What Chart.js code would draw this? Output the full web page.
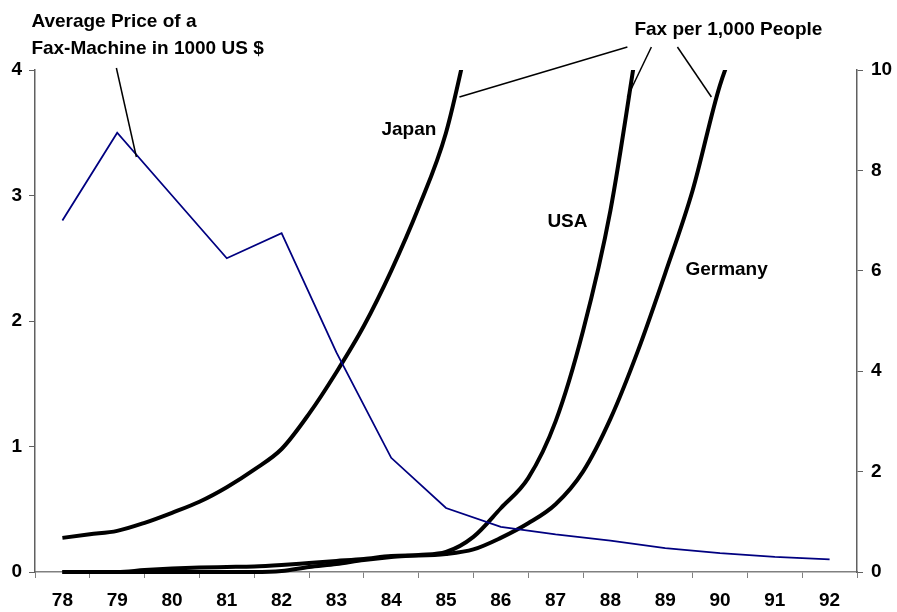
<!DOCTYPE html>
<html>
<head>
<meta charset="utf-8">
<script src="https://cdn.jsdelivr.net/npm/chart.js@4/dist/chart.umd.min.js"></script>
<style>
  html, body { margin: 0; padding: 0; background: #fff; }
  #wrap { width: 897px; height: 612px; position: relative; }
</style>
</head>
<body>
<div id="wrap"><canvas id="c"></canvas></div>
<script>
// ---- Data ----
const years = ['78','79','80','81','82','83','84','85','86','87','88','89','90','91','92'];
const priceValues = [2.80, 3.50, 3.00, 2.50, 2.70, 1.75, 0.91, 0.51, 0.36, 0.30, 0.25, 0.19, 0.15, 0.12, 0.10];

const halfYears = [78, 78.5, 79, 79.5, 80, 80.5, 81, 81.5, 82, 82.5, 83, 83.5, 84, 84.5, 85, 85.5,
                   86, 86.5, 87, 87.5, 88, 88.5, 89, 89.5, 90, 90.5];
const japanValues = [0.68, 0.75, 0.82, 0.98, 1.18, 1.40, 1.69, 2.04, 2.45, 3.15, 3.98, 4.90, 6.00, 7.26, 8.75, 11.1];
const usaValues = [0, 0, 0, 0, 0, 0, 0, 0, 0.02, 0.10, 0.16, 0.24, 0.30, 0.34, 0.40, 0.70,
                   1.27, 1.87, 3.00, 4.80, 7.20, 10.6];
const germanyValues = [0, 0, 0, 0.04, 0.07, 0.09, 0.10, 0.11, 0.14, 0.18, 0.22, 0.26, 0.32, 0.33, 0.36, 0.45,
                       0.68, 0.97, 1.35, 2.00, 3.05, 4.40, 5.95, 7.60, 9.70, 11.1];

const leftTicks = [0, 1, 2, 3, 4];
const rightTicks = [0, 2, 4, 6, 8, 10];

// Annotation texts and leader lines, in (year, right-axis value) units
const annotationTexts = [
  { text: 'Average Price of a', year: 77.434, value: 10.857 },
  { text: 'Fax-Machine in 1000 US $', year: 77.434, value: 10.319 },
  { text: 'Fax per 1,000 People', year: 88.438, value: 10.697 },
  { text: 'Japan', year: 83.821, value: 8.705 },
  { text: 'USA', year: 86.850, value: 6.873 },
  { text: 'Germany', year: 89.369, value: 5.916 }
];
const leaderLines = [
  [78.985, 10.040, 79.350, 8.267],
  [88.310, 10.458, 85.245, 9.462],
  [88.748, 10.458, 88.310, 9.462],
  [89.223, 10.458, 89.843, 9.462]
];

const toPoints = (xs, ys) => ys.map((v, i) => ({ x: xs[i], y: v }));

const FONT = "'Liberation Sans', Arial, sans-serif";
const AXIS_COLOR = '#808080';

const annotationPlugin = {
  id: 'annot',
  afterDatasetsDraw(chart) {
    const ctx = chart.ctx;
    const xs = chart.scales.xl, ys = chart.scales.y2;
    ctx.save();
    ctx.strokeStyle = '#000';
    ctx.lineWidth = 1.5;
    leaderLines.forEach(l => {
      ctx.beginPath();
      ctx.moveTo(xs.getPixelForValue(l[0]), ys.getPixelForValue(l[1]));
      ctx.lineTo(xs.getPixelForValue(l[2]), ys.getPixelForValue(l[3]));
      ctx.stroke();
    });
    ctx.fillStyle = '#000';
    ctx.font = 'bold 19px ' + FONT;
    ctx.textAlign = 'left';
    ctx.textBaseline = 'alphabetic';
    annotationTexts.forEach(a => {
      ctx.fillText(a.text, xs.getPixelForValue(a.year), ys.getPixelForValue(a.value));
    });
    ctx.restore();
  }
};

new Chart(document.getElementById('c'), {
  type: 'line',
  data: {
    labels: years,
    datasets: [
      {
        label: 'Average Price of a Fax-Machine in 1000 US $',
        data: toPoints(years.map(Number), priceValues),
        xAxisID: 'xl', yAxisID: 'y',
        borderColor: '#000080', borderWidth: 1.8,
        pointRadius: 0, tension: 0, fill: false
      },
      {
        label: 'Japan',
        data: toPoints(halfYears, japanValues),
        xAxisID: 'xl', yAxisID: 'y2',
        borderColor: '#000', borderWidth: 4,
        pointRadius: 0, cubicInterpolationMode: 'monotone', fill: false,
        clip: { left: 5, right: 5, top: 0, bottom: 5 }
      },
      {
        label: 'USA',
        data: toPoints(halfYears, usaValues),
        xAxisID: 'xl', yAxisID: 'y2',
        borderColor: '#000', borderWidth: 4,
        pointRadius: 0, cubicInterpolationMode: 'monotone', fill: false,
        clip: { left: 5, right: 5, top: 0, bottom: 5 }
      },
      {
        label: 'Germany',
        data: toPoints(halfYears, germanyValues),
        xAxisID: 'xl', yAxisID: 'y2',
        borderColor: '#000', borderWidth: 4,
        pointRadius: 0, cubicInterpolationMode: 'monotone', fill: false,
        clip: { left: 5, right: 5, top: 0, bottom: 5 }
      }
    ]
  },
  options: {
    responsive: true,
    maintainAspectRatio: false,
    animation: false,
    layout: { padding: { top: 70, left: 0, right: 0, bottom: 0 } },
    plugins: { legend: { display: false }, tooltip: { enabled: false } },
    scales: {
      x: {
        type: 'category',
        position: 'bottom',
        offset: true,
        grid: { offset: true, drawOnChartArea: false, drawTicks: true, tickLength: 6, color: AXIS_COLOR },
        border: { display: true, color: AXIS_COLOR, width: 1.5 },
        ticks: { autoSkip: false, maxRotation: 0, padding: 11, color: '#000', font: { family: FONT, size: 19, weight: 'bold' } },
        afterFit(s) { s.height = 40; }
      },
      xl: {
        type: 'linear', display: false, min: 77.5, max: 92.5
      },
      y: {
        type: 'linear', position: 'left', min: 0, max: 4,
        afterBuildTicks(s) { s.ticks = leftTicks.map(v => ({ value: v })); },
        grid: { drawOnChartArea: false, drawTicks: true, tickLength: 6, color: '#606060' },
        border: { display: true, color: '#606060', width: 1.5 },
        ticks: { padding: 7, color: '#000', font: { family: FONT, size: 19, weight: 'bold' } },
        afterFit(s) { s.width = 35; }
      },
      y2: {
        type: 'linear', position: 'right', min: 0, max: 10,
        afterBuildTicks(s) { s.ticks = rightTicks.map(v => ({ value: v })); },
        grid: { drawOnChartArea: false, drawTicks: true, tickLength: 6, color: '#606060' },
        border: { display: true, color: '#606060', width: 1.5 },
        ticks: { padding: 8, color: '#000', font: { family: FONT, size: 19, weight: 'bold' } },
        afterFit(s) { s.width = 40; }
      }
    }
  },
  plugins: [annotationPlugin]
});
</script>
</body>
</html>
